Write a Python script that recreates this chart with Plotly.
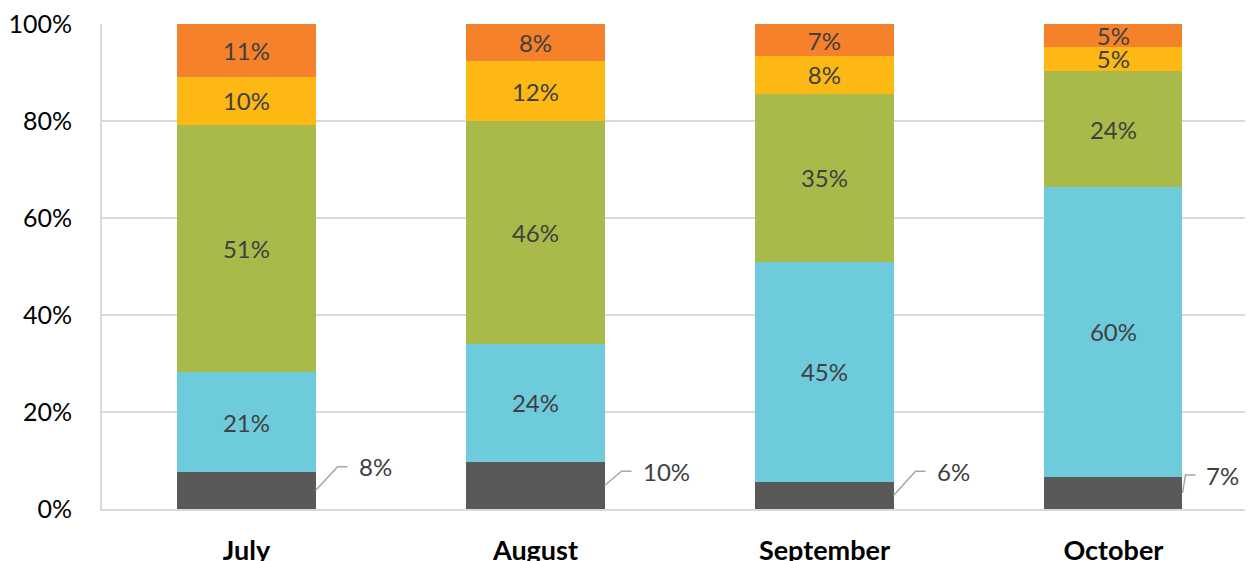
import plotly.graph_objects as go

# ---- data (percent of total) ----
months = ["July", "August", "September", "October"]
series_names = ["Series 1", "Series 2", "Series 3", "Series 4", "Series 5"]
s1 = [7.6, 9.7, 5.6, 6.6]      # dark grey (bottom)
s2 = [20.6, 24.4, 45.4, 59.8]  # light blue
s3 = [51.0, 45.8, 34.6, 23.9]  # green
s4 = [9.9, 12.4, 7.8, 5.0]     # yellow
s5 = [10.9, 7.7, 6.6, 4.7]     # orange (top)
y_ticks = [0, 20, 40, 60, 80, 100]

# ---- styling / layout constants ----
colors = ["#595959", "#6DCBDC", "#A9BA4A", "#FDB814", "#F5812A"]
FONT = "Lato"
TXT = "#404040"
BAR_W = 0.478
# leader-line geometry for the outside labels of series 1 (pixel offsets / label heights)
lead_dx = [22, 17, 22, 3]
lead_y = [8.7, 7.8, 7.8, 7.0]
HSEG = 10
GAP = 9

x = list(range(len(months)))
fig = go.Figure()
for name, vals, col, i in zip(series_names, [s1, s2, s3, s4, s5], colors, range(5)):
    fig.add_trace(go.Bar(
        x=x, y=vals, name=name, width=BAR_W,
        marker=dict(color=col, line=dict(width=0)),
        text=None if i == 0 else [f"{round(v)}%" for v in vals],
        textposition="inside", insidetextanchor="middle", textangle=0,
        textfont=dict(family=FONT, size=24, color=TXT),
        hoverinfo="skip",
    ))

# outside labels with leader lines for the bottom series
for i, v in enumerate(s1):
    xe = i + BAR_W / 2
    y0 = v / 2
    y1 = lead_y[i]
    dx = lead_dx[i]
    fig.add_shape(
        type="path", xref="x", yref="y", xsizemode="pixel", xanchor=xe,
        path=f"M 0,{y0} L {dx},{y1} L {dx + HSEG},{y1}",
        line=dict(color="#A6A6A6", width=1.5),
    )
    fig.add_annotation(
        x=xe, y=y1, xref="x", yref="y", text=f"{round(v)}%", showarrow=False,
        xanchor="left", yanchor="middle", xshift=dx + HSEG + GAP,
        font=dict(family=FONT, size=24, color=TXT),
    )

# the page body adds an 8px offset, so the figure is sized to fit the window
fig.update_layout(
    barmode="stack",
    width=1245, height=553,
    margin=dict(l=94, r=0, t=16, b=52),
    paper_bgcolor="white", plot_bgcolor="white",
    showlegend=False,
    uniformtext=dict(minsize=24, mode="show"),
    font=dict(family=FONT, color="black"),
)
fig.update_xaxes(
    range=[-0.5, 3.483], tickvals=x, ticktext=months, automargin=False,
    tickfont=dict(family=FONT, size=27, color="black", weight="bold"),
    showgrid=False, zeroline=False, showline=True, linecolor="#D9D9D9", linewidth=2,
    ticks="", ticklabelstandoff=17, ticklabeloverflow="allow",
)
fig.update_yaxes(
    range=[0, 100], tickvals=y_ticks, ticktext=[f"{t}%" for t in y_ticks], automargin=False,
    tickfont=dict(family=FONT, size=25, color="black"),
    showgrid=True, gridcolor="#D9D9D9", gridwidth=2,
    zeroline=False, showline=True, linecolor="#D9D9D9", linewidth=2,
    ticks="", ticklabelstandoff=23, ticklabeloverflow="allow",
)

fig.write_html("out.html")
